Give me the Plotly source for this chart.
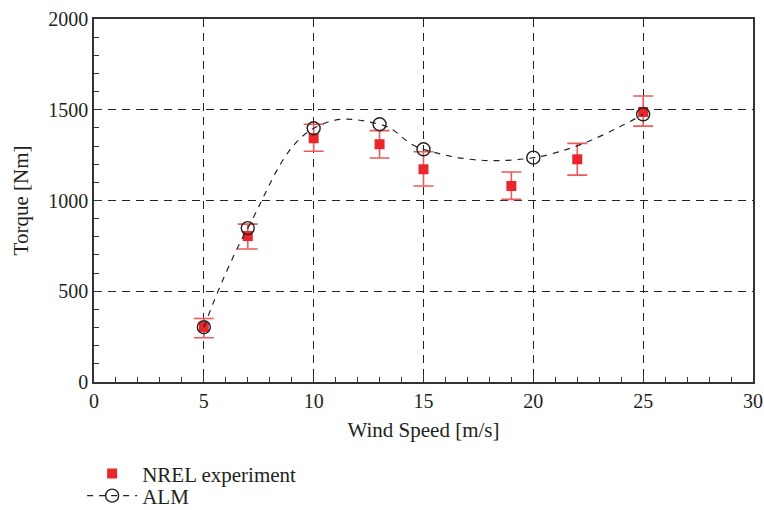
import plotly.graph_objects as go

# NREL experiment data
exp_x = [5, 7, 10, 13, 15, 19, 22, 25]
exp_y = [303, 804, 1343, 1310, 1172, 1080, 1227, 1488]
exp_err_plus = [47, 66, 77, 75, 97, 77, 88, 88]
exp_err_minus = [59, 71, 72, 76, 92, 74, 87, 78]

# ALM simulation data
alm_x = [5, 7, 10, 13, 15, 20, 25]
alm_y = [302, 848, 1398, 1420, 1282, 1236, 1475]

x_ticks = [0, 5, 10, 15, 20, 25, 30]
y_ticks = [0, 500, 1000, 1500, 2000]

font_family = "Liberation Serif, DejaVu Serif, serif"
txt_color = "#231f20"

fig = go.Figure()

fig.add_trace(go.Scatter(
    x=exp_x, y=exp_y, mode="markers", name="NREL experiment", legend="legend",
    marker=dict(symbol="square", size=10, color="#e8262b"),
    error_y=dict(type="data", symmetric=False, array=exp_err_plus,
                 arrayminus=exp_err_minus, color="#ee5a5a",
                 thickness=1.6, width=10),
))

fig.add_trace(go.Scatter(
    x=alm_x, y=alm_y, mode="lines+markers", name="ALM", legend="legend2",
    line=dict(shape="spline", smoothing=1.2, dash="6px,6px", color="#222222", width=1.2),
    marker=dict(symbol="circle-open", size=13, color="#222222", line=dict(width=1.4)),
))

axis_common = dict(
    showline=True, linecolor="#333333", linewidth=1.5, mirror=True,
    showgrid=True, gridcolor="#222222", griddash="8px,6px", gridwidth=1.2,
    zeroline=False, ticks="inside", ticklen=7, tickcolor="#333333",
    tickfont=dict(family=font_family, size=20, color=txt_color),
    automargin=False,
)

fig.update_xaxes(
    range=[0, 30], tickvals=x_ticks,
    minor=dict(dtick=1, ticks="inside", ticklen=5, tickcolor="#333333", showgrid=False),
    title=dict(text="Wind Speed [m/s]", font=dict(family=font_family, size=21, color=txt_color), standoff=12),
    **axis_common,
)
fig.update_yaxes(
    range=[0, 2000], tickvals=y_ticks,
    minor=dict(dtick=100, ticks="inside", ticklen=5, tickcolor="#333333", showgrid=False),
    title=dict(text="Torque [Nm]", font=dict(family=font_family, size=21, color=txt_color), standoff=14),
    **axis_common,
)

legend_common = dict(
    xanchor="left", yanchor="middle",
    font=dict(family=font_family, size=21, color=txt_color),
    itemwidth=50, bgcolor="rgba(0,0,0,0)",
)

fig.update_layout(
    width=764, height=510,
    margin=dict(l=94, r=11, t=19, b=128, autoexpand=False),
    paper_bgcolor="white", plot_bgcolor="white",
    showlegend=True,
    legend=dict(x=-0.018, y=-0.253, **legend_common),
    legend2=dict(x=-0.018, y=-0.314, **legend_common),
)

fig.write_html("out.html", config={"displayModeBar": False},
               post_script="document.body.style.margin='0';")
